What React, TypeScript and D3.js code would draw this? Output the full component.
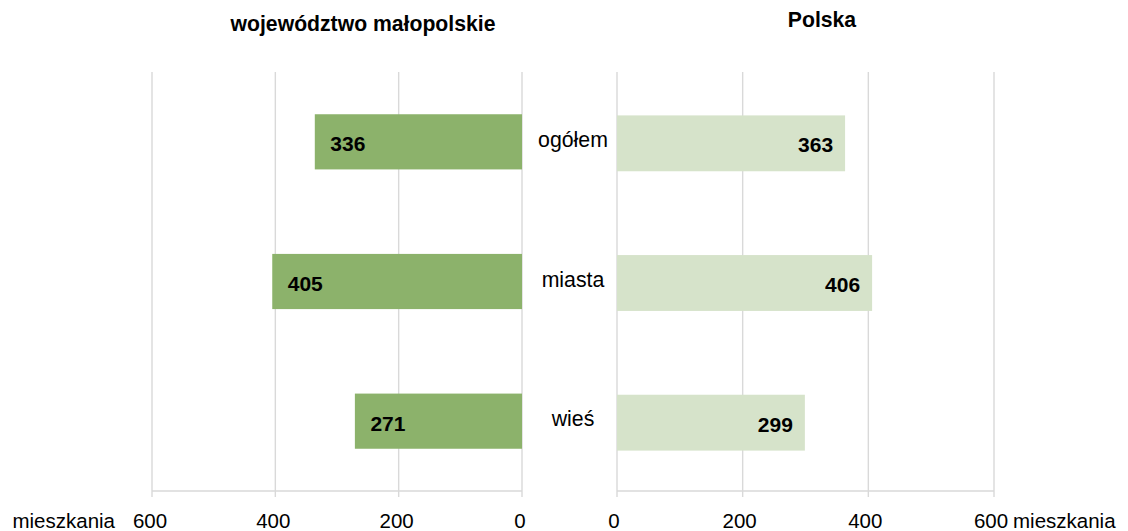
import React from "react";
import * as d3 from "d3";

const categories = ["ogółem", "miasta", "wieś"];
const malopolskie = [336, 405, 271];
const polska = [363, 406, 299];
const tickValues = [0, 200, 400, 600];
const leftTitle = "województwo małopolskie";
const rightTitle = "Polska";
const unitLabel = "mieszkania";

const W = 1128;
const H = 531;
const FONT = "'Liberation Sans', Arial, Helvetica, sans-serif";
const GRID = "#d9d9d9";
const LEFT_COLOR = "#8CB26B";
const RIGHT_COLOR = "#D6E3CA";

export default function App() {
  const xLeft = d3.scaleLinear().domain([0, 600]).range([522, 152]);
  const xRight = d3.scaleLinear().domain([0, 600]).range([617, 994]);
  const yTop = 72;
  const yBottom = 491;
  const yLeft = d3
    .scaleBand<string>()
    .domain(categories)
    .range([yTop, yBottom])
    .paddingInner(0.605)
    .paddingOuter(0.3025);
  const yRight = d3
    .scaleBand<string>()
    .domain(categories)
    .range([yTop + 1.5, yBottom + 1.5])
    .paddingInner(0.6)
    .paddingOuter(0.3);

  return (
    <svg
      width={W}
      height={H}
      style={{ position: "absolute", left: 0, top: 0, background: "#fff" }}
      fontFamily={FONT}
    >
      {/* titles */}
      <text x={363} y={31} textAnchor="middle" fontSize={21.2} fontWeight="bold" fill="#000">
        {leftTitle}
      </text>
      <text x={822} y={26.5} textAnchor="middle" fontSize={21.2} fontWeight="bold" fill="#000">
        {rightTitle}
      </text>

      {/* grid lines */}
      {tickValues.map((t) => (
        <g key={"gl" + t}>
          <line x1={xLeft(t)} x2={xLeft(t)} y1={yTop} y2={yBottom + 6} stroke={GRID} strokeWidth={1.4} />
          <line x1={xRight(t)} x2={xRight(t)} y1={yTop} y2={yBottom + 6} stroke={GRID} strokeWidth={1.4} />
        </g>
      ))}
      <line x1={xLeft(600)} x2={xLeft(0)} y1={yBottom} y2={yBottom} stroke={GRID} strokeWidth={1.4} />
      <line x1={xRight(0)} x2={xRight(600)} y1={yBottom} y2={yBottom} stroke={GRID} strokeWidth={1.4} />

      {/* left bars */}
      {categories.map((c, i) => {
        const y = yLeft(c)!;
        const bw = yLeft.bandwidth();
        const x0 = xLeft(malopolskie[i]);
        return (
          <g key={"lb" + c}>
            <rect x={x0} y={y} width={xLeft(0) - x0} height={bw} fill={LEFT_COLOR} />
            <text x={x0 + 15.5} y={y + bw / 2 + 9.5} fontSize={21} fontWeight="bold" fill="#000">
              {malopolskie[i]}
            </text>
          </g>
        );
      })}

      {/* right bars */}
      {categories.map((c, i) => {
        const y = yRight(c)!;
        const bw = yRight.bandwidth();
        const x1 = xRight(polska[i]);
        return (
          <g key={"rb" + c}>
            <rect x={xRight(0)} y={y} width={x1 - xRight(0)} height={bw} fill={RIGHT_COLOR} />
            <text x={x1 - 12} y={y + bw / 2 + 9} textAnchor="end" fontSize={21} fontWeight="bold" fill="#000">
              {polska[i]}
            </text>
          </g>
        );
      })}

      {/* category labels */}
      {categories.map((c) => (
        <text
          key={"cl" + c}
          x={573}
          y={yLeft(c)! + yLeft.bandwidth() / 2 + 5}
          textAnchor="middle"
          fontSize={21.3}
          fill="#000"
        >
          {c}
        </text>
      ))}

      {/* tick labels */}
      {tickValues.map((t) => (
        <g key={"tl" + t}>
          <text x={xLeft(t) - 2} y={528} textAnchor="middle" fontSize={20.5} fill="#000">
            {t}
          </text>
          <text x={xRight(t) - 3} y={528} textAnchor="middle" fontSize={20.5} fill="#000">
            {t}
          </text>
        </g>
      ))}
      <text x={115} y={528} textAnchor="end" fontSize={20.5} fill="#000">
        {unitLabel}
      </text>
      <text x={1013} y={528} textAnchor="start" fontSize={20.5} fill="#000">
        {unitLabel}
      </text>
    </svg>
  );
}
